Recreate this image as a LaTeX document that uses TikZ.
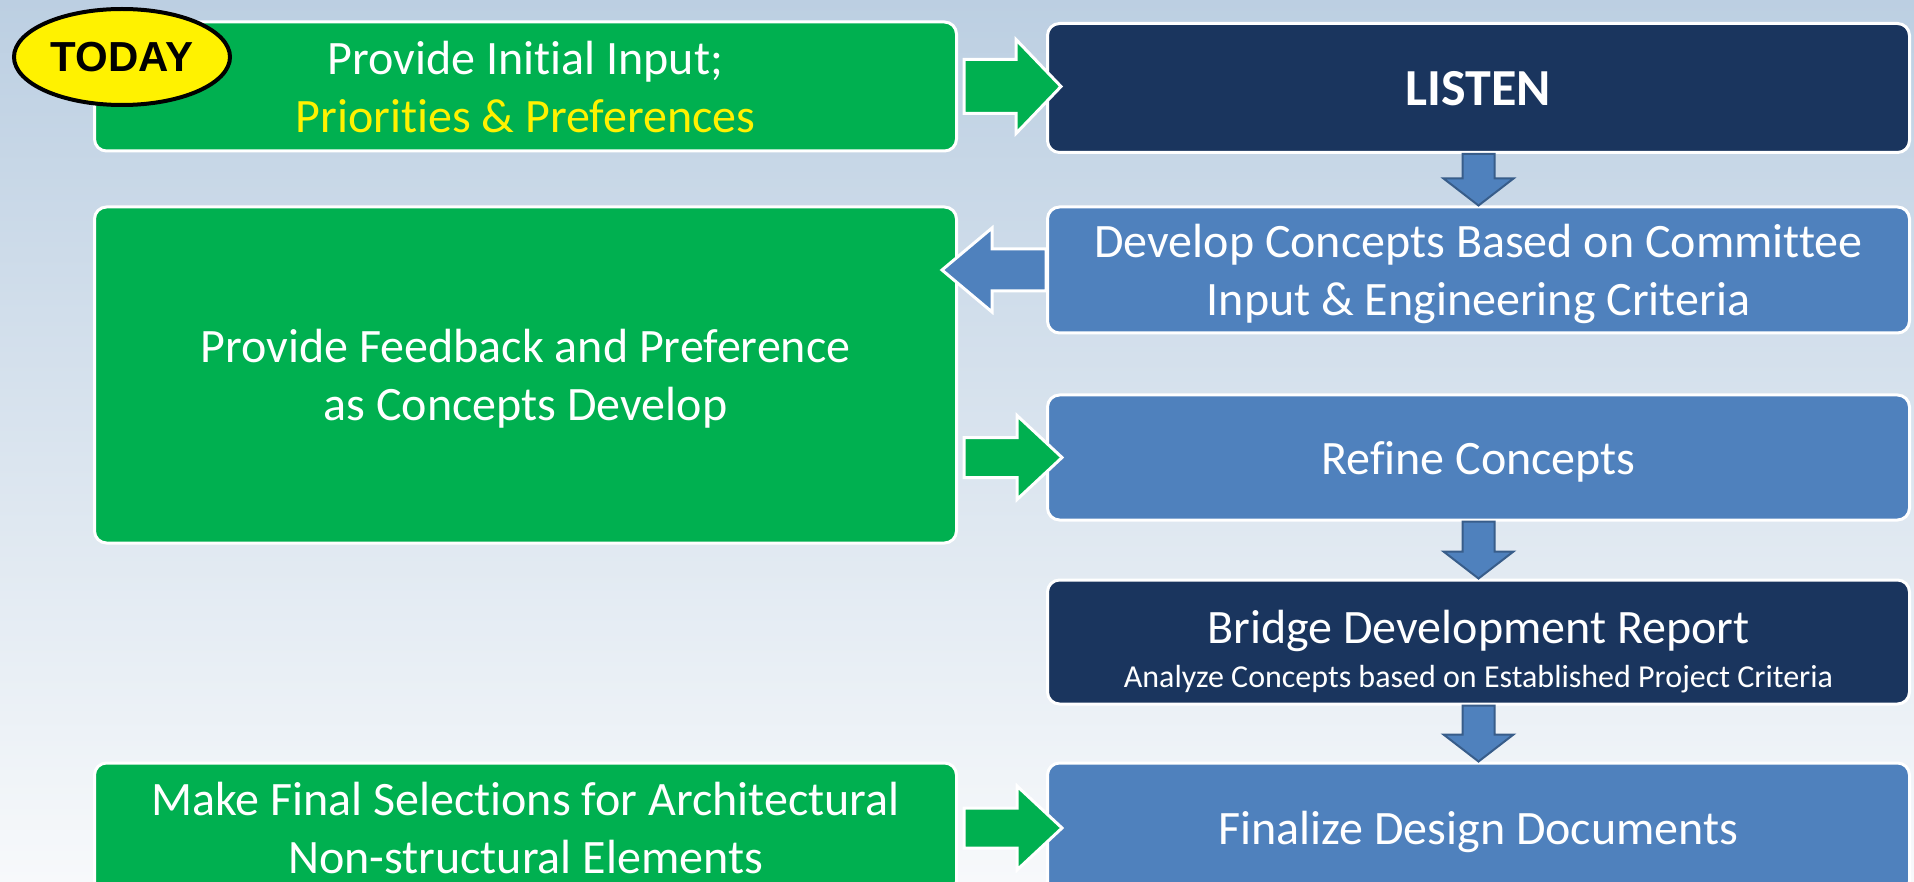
\documentclass[tikz,border=0pt]{standalone}
\usepackage{fontspec}
\setmainfont{Carlito}[Ligatures=NoCommon, Contextuals=NoAlternate, RawFeature=-liga, RawFeature=-clig, RawFeature=-dlig]
\newfontfamily\todayfont{Liberation Sans}
\usetikzlibrary{calc,shapes.geometric}
\definecolor{boxgreen}{HTML}{00B050}
\definecolor{navy}{HTML}{1A355E}
\definecolor{steel}{HTML}{4F81BD}
\definecolor{steeldark}{HTML}{385D8A}
\definecolor{bgtop}{HTML}{BCCFE2}
\definecolor{bgmid}{HTML}{DFE6EE}
\definecolor{bgbot}{HTML}{F7F9FB}
\tikzset{
  arrshaft/.store in=\arrshaft, arrhead/.store in=\arrhead, arrlen/.store in=\arrlen,
  arrshaft=20pt, arrhead=42pt, arrlen=45pt,
  toright/.style={to path={let \p1=(\tikztostart), \p2=(\tikztotarget) in
    (\x1,\y1+\arrshaft) -- (\x2-\arrlen,\y1+\arrshaft) -- (\x2-\arrlen,\y1+\arrhead) -- (\x2,\y1)
    -- (\x2-\arrlen,\y1-\arrhead) -- (\x2-\arrlen,\y1-\arrshaft) -- (\x1,\y1-\arrshaft) -- cycle}},
  toleft/.style={to path={let \p1=(\tikztostart), \p2=(\tikztotarget) in
    (\x1,\y1+\arrshaft) -- (\x2+\arrlen,\y1+\arrshaft) -- (\x2+\arrlen,\y1+\arrhead) -- (\x2,\y1)
    -- (\x2+\arrlen,\y1-\arrhead) -- (\x2+\arrlen,\y1-\arrshaft) -- (\x1,\y1-\arrshaft) -- cycle}},
  todown/.style={to path={let \p1=(\tikztostart), \p2=(\tikztotarget) in
    (\x1-\arrshaft,\y1) -- (\x1-\arrshaft,\y2+\arrlen) -- (\x1-\arrhead,\y2+\arrlen) -- (\x1,\y2)
    -- (\x1+\arrhead,\y2+\arrlen) -- (\x1+\arrshaft,\y2+\arrlen) -- (\x1+\arrshaft,\y1) -- cycle}}
}
\begin{document}
\begin{tikzpicture}[x=1pt,y=-1pt,
  box/.style={draw=white, line width=3pt, rounded corners=12pt, text=white, align=center, inner sep=0pt, text depth=0pt, minimum width=862pt, font=\fontsize{48}{58}\selectfont},
  greenbox/.style={box, fill=boxgreen},
  navybox/.style={box, fill=navy},
  bluebox/.style={box, fill=steel},
  greenarrow/.style={fill=boxgreen, draw=white, line width=3pt},
  bluearrow/.style={fill=steel, draw=white, line width=3pt, arrshaft=21pt, arrhead=42pt, arrlen=50pt},
  downarrow/.style={fill=steel, draw=steeldark, line width=2pt, arrshaft=16pt, arrhead=35pt, arrlen=27pt}]
\shade[top color=bgtop, middle color=bgmid, bottom color=bgbot] (0,0) rectangle (1914,882);
\useasboundingbox (0,0) rectangle (1914,882);
\clip (0,0) rectangle (1914,882);
\node[greenbox, minimum height=129pt] (input) at (525.5,86.5) {Provide Initial Input;\\\textcolor{yellow}{Priorities \& Preferences}};
\node[navybox, minimum height=129pt, font=\fontsize{52}{60}\selectfont\bfseries] (listen) at (1478.5,88) {LISTEN};
\node[bluebox, minimum height=126pt] (develop) at (1478.5,270) {Develop Concepts Based on Committee\\Input \& Engineering Criteria};
\node[greenbox, minimum height=336pt] (feedback) at (525.5,375) {Provide Feedback and Preference\\as Concepts Develop};
\node[bluebox, minimum height=125pt] (refine) at (1478.5,457.5) {Refine Concepts};
\node[navybox, minimum height=124pt] (report) at (1478.5,642) {\rule{0pt}{46pt}Bridge Development Report\\[-14pt]{\fontsize{32}{44}\selectfont Analyze Concepts based on Established Project Criteria}};
\node[bluebox, minimum height=130pt] (finalize) at (1478.5,828) {Finalize Design Documents};
\node[greenbox, minimum height=130pt] (selections) at (525.5,828) {Make Final Selections for Architectural\\Non-structural Elements};
\draw[greenarrow, arrshaft=27pt, arrhead=47pt] ($(input.east)+(6,0)$) to[toright] ($(listen.west)+(15,0)$);
\draw[bluearrow] (develop.west) to[toleft] ($(feedback.east |- develop.west)+(-16,0)$);
\draw[greenarrow] ($(feedback.east |- refine.west)+(6,0)$) to[toright] ($(refine.west)+(16,0)$);
\draw[greenarrow] ($(selections.east)+(6,0)$) to[toright] ($(finalize.west)+(16,0)$);
\draw[downarrow] (listen.south) to[todown] (develop.north);
\draw[downarrow] (refine.south) to[todown] (report.north);
\draw[downarrow] (report.south) to[todown] (finalize.north);
\node[ellipse, fill=yellow, draw=black, line width=4pt, minimum width=216pt, minimum height=96pt, inner sep=0pt, font=\todayfont\bfseries\fontsize{42}{48}\selectfont] (today) at (122,57) {TODAY};
\end{tikzpicture}
\end{document}
